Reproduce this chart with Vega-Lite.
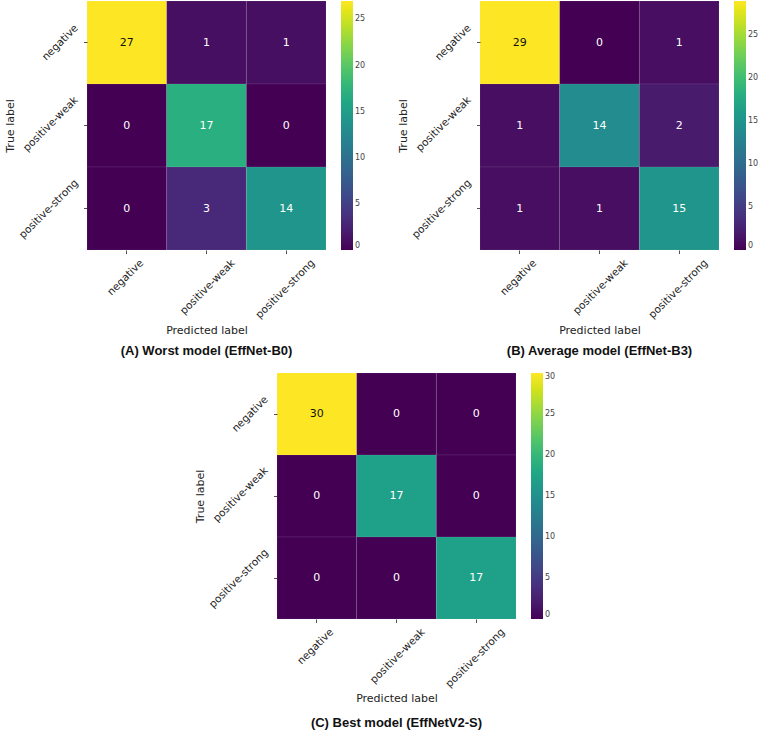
{
  "$schema": "https://vega.github.io/schema/vega-lite/v6.json",
  "background": "white",
  "padding": {"left": 4, "top": 0, "right": 0, "bottom": 0},
  "config": {
    "view": {"stroke": null},
    "axis": {
      "domain": false,
      "grid": false,
      "ticks": true,
      "tickSize": 3.5,
      "tickWidth": 0.8,
      "tickColor": "#222222",
      "labelFont": "DejaVu Sans",
      "labelFontSize": 10.5,
      "labelColor": "#222222",
      "titleFont": "DejaVu Sans",
      "titleFontSize": 11,
      "titleFontWeight": "normal",
      "titleColor": "#222222"
    },
    "legend": {
      "title": null,
      "offset": 15,
      "gradientThickness": 12,
      "gradientStrokeWidth": 0,
      "labelFont": "DejaVu Sans",
      "labelFontSize": 8,
      "labelColor": "#444444",
      "labelOverlap": false,
      "labelOffset": 5
    },
    "title": {
      "font": "Liberation Sans",
      "fontSize": 13,
      "fontWeight": "bold",
      "color": "#111111",
      "orient": "bottom",
      "anchor": "middle",
      "frame": "group",
      "offset": 10
    }
  },
  "data": {
    "values": [
      {"panel": "A", "actual": "negative", "predicted": "negative", "n": 27},
      {"panel": "A", "actual": "negative", "predicted": "positive-weak", "n": 1},
      {"panel": "A", "actual": "negative", "predicted": "positive-strong", "n": 1},
      {"panel": "A", "actual": "positive-weak", "predicted": "negative", "n": 0},
      {"panel": "A", "actual": "positive-weak", "predicted": "positive-weak", "n": 17},
      {"panel": "A", "actual": "positive-weak", "predicted": "positive-strong", "n": 0},
      {"panel": "A", "actual": "positive-strong", "predicted": "negative", "n": 0},
      {"panel": "A", "actual": "positive-strong", "predicted": "positive-weak", "n": 3},
      {"panel": "A", "actual": "positive-strong", "predicted": "positive-strong", "n": 14},
      {"panel": "B", "actual": "negative", "predicted": "negative", "n": 29},
      {"panel": "B", "actual": "negative", "predicted": "positive-weak", "n": 0},
      {"panel": "B", "actual": "negative", "predicted": "positive-strong", "n": 1},
      {"panel": "B", "actual": "positive-weak", "predicted": "negative", "n": 1},
      {"panel": "B", "actual": "positive-weak", "predicted": "positive-weak", "n": 14},
      {"panel": "B", "actual": "positive-weak", "predicted": "positive-strong", "n": 2},
      {"panel": "B", "actual": "positive-strong", "predicted": "negative", "n": 1},
      {"panel": "B", "actual": "positive-strong", "predicted": "positive-weak", "n": 1},
      {"panel": "B", "actual": "positive-strong", "predicted": "positive-strong", "n": 15},
      {"panel": "C", "actual": "negative", "predicted": "negative", "n": 30},
      {"panel": "C", "actual": "negative", "predicted": "positive-weak", "n": 0},
      {"panel": "C", "actual": "negative", "predicted": "positive-strong", "n": 0},
      {"panel": "C", "actual": "positive-weak", "predicted": "negative", "n": 0},
      {"panel": "C", "actual": "positive-weak", "predicted": "positive-weak", "n": 17},
      {"panel": "C", "actual": "positive-weak", "predicted": "positive-strong", "n": 0},
      {"panel": "C", "actual": "positive-strong", "predicted": "negative", "n": 0},
      {"panel": "C", "actual": "positive-strong", "predicted": "positive-weak", "n": 0},
      {"panel": "C", "actual": "positive-strong", "predicted": "positive-strong", "n": 17}
    ]
  },
  "spacing": 13,
  "resolve": {"scale": {"color": "independent"}, "legend": {"color": "independent"}},
  "vconcat": [
    {
      "spacing": 31,
      "resolve": {"scale": {"color": "independent"}, "legend": {"color": "independent"}},
      "hconcat": [
        {
          "title": {"text": "(A) Worst model (EffNet-B0)"},
          "width": 239,
          "height": 249,
          "transform": [{"filter": "datum.panel === 'A'"}],
          "encoding": {
            "x": {
              "field": "predicted", "type": "nominal",
              "sort": ["negative", "positive-weak", "positive-strong"],
              "scale": {"paddingInner": 0, "paddingOuter": 0},
              "title": "Predicted label",
              "axis": {
                "labelAngle": -45, "labelAlign": "right", "labelBaseline": "middle",
                "labelPadding": 7.5, "titlePadding": 4,
                "labelOffset": {"condition": {"test": "datum.value === 'negative'", "value": 15}, "value": 27}
              }
            },
            "y": {
              "field": "actual", "type": "nominal",
              "sort": ["negative", "positive-weak", "positive-strong"],
              "scale": {"paddingInner": 0, "paddingOuter": 0},
              "title": "True label",
              "axis": {
                "labelAngle": -45, "labelAlign": "right", "labelBaseline": "middle",
                "labelPadding": 7.5, "titlePadding": 2,
                "labelOffset": {"condition": {"test": "datum.value === 'negative'", "value": -16}, "value": -27}
              }
            }
          },
          "layer": [
            {
              "mark": {"type": "rect", "stroke": "#ffffff", "strokeWidth": 0.5, "strokeOpacity": 0.15},
              "encoding": {
                "color": {
                  "field": "n", "type": "quantitative",
                  "scale": {"scheme": "viridis", "domain": [0, 27]},
                  "legend": {"values": [0, 5, 10, 15, 20, 25], "gradientLength": 249}
                }
              }
            },
            {
              "mark": {"type": "text", "font": "DejaVu Sans", "fontSize": 11},
              "encoding": {
                "text": {"field": "n", "type": "quantitative"},
                "color": {"condition": {"test": "datum.n >= 25", "value": "#111111"}, "value": "#ffffff"}
              }
            }
          ]
        },
        {
          "title": {"text": "(B) Average model (EffNet-B3)"},
          "width": 239,
          "height": 249,
          "transform": [{"filter": "datum.panel === 'B'"}],
          "encoding": {
            "x": {
              "field": "predicted", "type": "nominal",
              "sort": ["negative", "positive-weak", "positive-strong"],
              "scale": {"paddingInner": 0, "paddingOuter": 0},
              "title": "Predicted label",
              "axis": {
                "labelAngle": -45, "labelAlign": "right", "labelBaseline": "middle",
                "labelPadding": 7.5, "titlePadding": 4,
                "labelOffset": {"condition": {"test": "datum.value === 'negative'", "value": 15}, "value": 27}
              }
            },
            "y": {
              "field": "actual", "type": "nominal",
              "sort": ["negative", "positive-weak", "positive-strong"],
              "scale": {"paddingInner": 0, "paddingOuter": 0},
              "title": "True label",
              "axis": {
                "labelAngle": -45, "labelAlign": "right", "labelBaseline": "middle",
                "labelPadding": 7.5, "titlePadding": 2,
                "labelOffset": {"condition": {"test": "datum.value === 'negative'", "value": -16}, "value": -27}
              }
            }
          },
          "layer": [
            {
              "mark": {"type": "rect", "stroke": "#ffffff", "strokeWidth": 0.5, "strokeOpacity": 0.15},
              "encoding": {
                "color": {
                  "field": "n", "type": "quantitative",
                  "scale": {"scheme": "viridis", "domain": [0, 29]},
                  "legend": {"values": [0, 5, 10, 15, 20, 25], "gradientLength": 249}
                }
              }
            },
            {
              "mark": {"type": "text", "font": "DejaVu Sans", "fontSize": 11},
              "encoding": {
                "text": {"field": "n", "type": "quantitative"},
                "color": {"condition": {"test": "datum.n >= 25", "value": "#111111"}, "value": "#ffffff"}
              }
            }
          ]
        }
      ]
    },
    {
      "spacing": 20,
      "resolve": {"scale": {"color": "independent"}, "legend": {"color": "independent"}},
      "hconcat": [
        {
          "width": 87,
          "height": 10,
          "data": {"values": []},
          "mark": {"type": "point", "opacity": 0}
        },
        {
          "title": {"text": "(C) Best model (EffNetV2-S)", "offset": 14},
          "width": 239,
          "height": 246,
          "transform": [{"filter": "datum.panel === 'C'"}],
          "encoding": {
            "x": {
              "field": "predicted", "type": "nominal",
              "sort": ["negative", "positive-weak", "positive-strong"],
              "scale": {"paddingInner": 0, "paddingOuter": 0},
              "title": "Predicted label",
              "axis": {
                "labelAngle": -45, "labelAlign": "right", "labelBaseline": "middle",
                "labelPadding": 7.5, "titlePadding": 3,
                "labelOffset": {"condition": {"test": "datum.value === 'negative'", "value": 15}, "value": 27}
              }
            },
            "y": {
              "field": "actual", "type": "nominal",
              "sort": ["negative", "positive-weak", "positive-strong"],
              "scale": {"paddingInner": 0, "paddingOuter": 0},
              "title": "True label",
              "axis": {
                "labelAngle": -45, "labelAlign": "right", "labelBaseline": "middle",
                "labelPadding": 7.5, "titlePadding": 2,
                "labelOffset": {"condition": {"test": "datum.value === 'negative'", "value": -16}, "value": -27}
              }
            }
          },
          "layer": [
            {
              "mark": {"type": "rect", "stroke": "#ffffff", "strokeWidth": 0.5, "strokeOpacity": 0.15},
              "encoding": {
                "color": {
                  "field": "n", "type": "quantitative",
                  "scale": {"scheme": "viridis", "domain": [0, 30]},
                  "legend": {"values": [0, 5, 10, 15, 20, 25, 30], "gradientLength": 246}
                }
              }
            },
            {
              "mark": {"type": "text", "font": "DejaVu Sans", "fontSize": 11},
              "encoding": {
                "text": {"field": "n", "type": "quantitative"},
                "color": {"condition": {"test": "datum.n >= 25", "value": "#111111"}, "value": "#ffffff"}
              }
            }
          ]
        }
      ]
    }
  ]
}
